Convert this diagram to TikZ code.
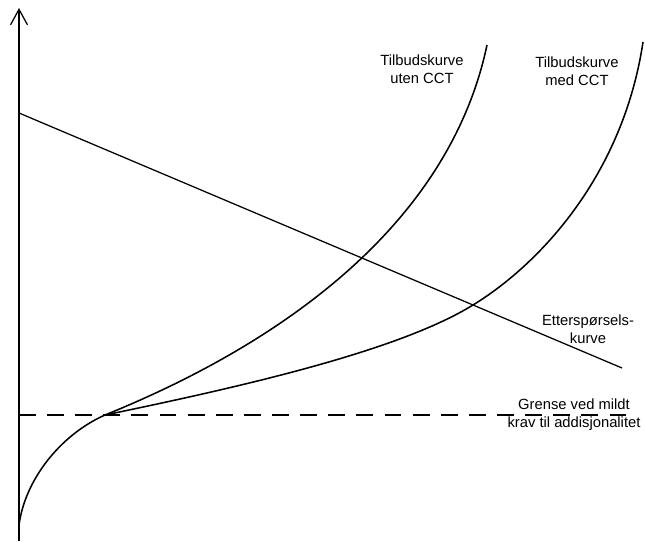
\documentclass[tikz,border=0pt]{standalone}
\usepackage{fontspec}
\setmainfont{Liberation Sans}
\usetikzlibrary{arrows.meta}

\begin{document}
\begin{tikzpicture}[x=0.025cm,y=-0.025cm,
        lbl/.style={align=center,font=\fontsize{10.5}{12.6}\selectfont,inner sep=0pt},
        curve/.style={line width=1.1pt,black}]
            \useasboundingbox (0,0) rectangle (645,541);

            % axis
            \coordinate (O) at (19,541);
            \coordinate (ytop) at (19,8);
            \draw[line width=0.9pt,-{Straight Barb[length=11pt,width=12pt]}] (O) -- (ytop);

            % demand curve
            \coordinate (d1) at (19,113);
            \coordinate (d2) at (622,368);
            \draw[line width=0.9pt] (d1) -- (d2);

            % limit for additionality
            \coordinate (g1) at (19,415);
            \coordinate (g2) at (630,415);
            \draw[line width=0.9pt,dash pattern=on 12 off 8] (g1) -- (g2);

            % supply curves
            \coordinate (s0) at (19,525);
            \coordinate (s1) at (105,415);
            \coordinate (u1) at (487,45);
            \coordinate (m1) at (473,305);
            \coordinate (m2) at (643,42);
            \draw[curve] (s0) .. controls (25,480) and (60,435) .. (s1)
                .. controls (290,340) and (450,220) .. (u1);
            \draw[curve] (s1) .. controls (250,385) and (400,350) .. (m1)
                .. controls (540,264) and (623,175) .. (m2);

            % labels
            \node[lbl] (uten) at (422,69) {Tilbudskurve\\uten CCT};
            \node[lbl] (med) at (577,71) {Tilbudskurve\\med CCT};
            \node[lbl] (ett) at (588,329) {Etterspørsels-\\kurve};
            \node[lbl] (grense) at (574,415) {Grense ved mildt\\krav til addisjonalitet};
        \end{tikzpicture}
\end{document}
